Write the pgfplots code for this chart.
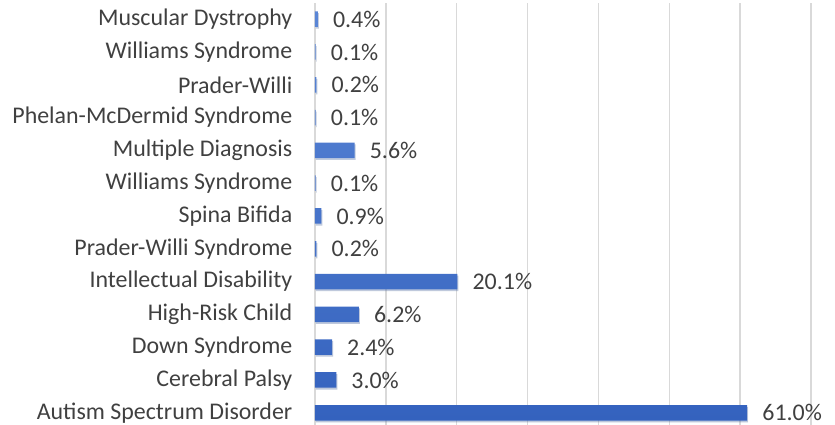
\documentclass[border=0pt]{standalone}
\usepackage{pgfplots}
\pgfplotsset{compat=1.18}
\usepackage{pgfplotstable}
\usepackage{fontspec}
\setmainfont{Carlito}
\usetikzlibrary{shadows}
\definecolor{barblue}{HTML}{4472C4}
\definecolor{bartop}{HTML}{5A86D6}
\definecolor{barbot}{HTML}{3462BE}
\definecolor{gridgray}{HTML}{D9D9D9}
\definecolor{txtgray}{HTML}{404040}
\pgfplotstableread{
y val
0 61.0
1 3.0
2 2.4
3 6.2
4 20.1
5 0.2
6 0.9
7 0.1
8 5.6
9 0.1
10 0.2
11 0.1
12 0.4
}\datatable
\begin{document}
\begin{tikzpicture}
\begin{axis}[
  at={(0,0)}, anchor=south west,
  scale only axis,
  width=496bp, height=426.4bp,
  xmin=0, xmax=70,
  ymin=-0.5, ymax=12.5,
  xtick={0,10,...,70},
  xticklabels={},
  xmajorgrids,
  grid style={gridgray, line width=1.3bp},
  axis line style={draw=none},
  major tick length=0pt,
  ytick={0,...,12},
  yticklabels={Autism Spectrum Disorder,Cerebral Palsy,Down Syndrome,High-Risk Child,Intellectual Disability,Prader-Willi Syndrome,Spina Bifida,Williams Syndrome,Multiple Diagnosis,Phelan-McDermid Syndrome,Prader-Willi,Williams Syndrome,Muscular Dystrophy},
  yticklabel style={font=\fontsize{24}{28}\selectfont, text=txtgray, inner sep=0pt, xshift=-22.5bp},
  /pgf/number format/assume math mode=true,
  xbar, bar width=15.5bp,
  nodes near coords={\pgfmathprintnumber[fixed,precision=1,zerofill,assume math mode=true]{\pgfplotspointmeta}\%},
  point meta=explicit,
  nodes near coords style={font=\fontsize{24}{28}\selectfont, text=txtgray, anchor=west, inner sep=0pt, xshift=15bp},
  clip=false,
]
\addplot[draw=none, top color=bartop, bottom color=barbot,
  drop shadow={shadow xshift=1bp, shadow yshift=-1.8bp, opacity=0.22, fill=gray}]
  table[x=val, y=y, meta=val] {\datatable};
\end{axis}
\pgfresetboundingbox
\path[use as bounding box] (-315bp,4.2bp) rectangle (520bp,429.2bp);
\end{tikzpicture}
\end{document}
